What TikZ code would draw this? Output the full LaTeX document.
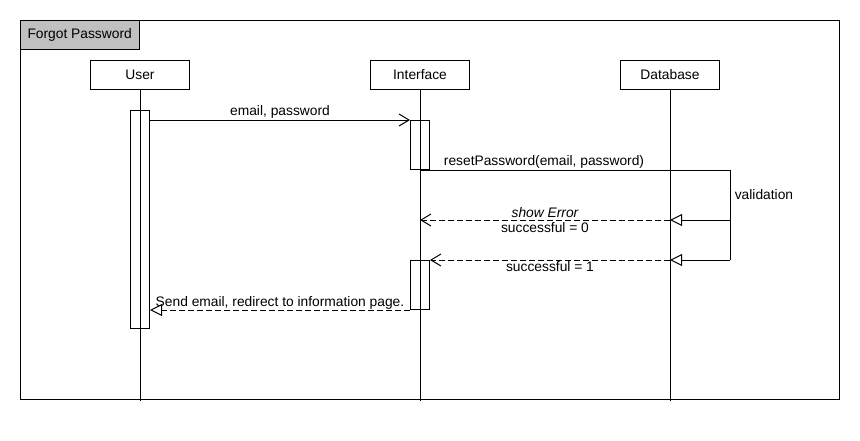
\documentclass[tikz,border=0pt]{standalone}
\usepackage{fontspec}
\setmainfont{Liberation Sans}
\usetikzlibrary{arrows.meta}
\definecolor{tabgray}{HTML}{C0C0C0}
\begin{document}
\begin{tikzpicture}[x=1pt,y=-1pt,line width=1pt,
  every node/.style={font=\fontsize{13.8}{16}\selectfont},
  partbox/.style={draw,minimum width=99pt,minimum height=29pt,inner sep=0pt},
  actbox/.style={draw,fill=white,minimum width=19pt,inner sep=0pt,anchor=north},
  openhead/.style={-{Straight Barb[length=10pt,width=12pt,line width=1pt]}},
  trihead/.style={-{Triangle[open,length=12pt,width=12pt,line width=1pt,fill=white]}},
  retline/.style={dash pattern=on 6pt off 3pt},
  msglabel/.style={inner sep=1pt}]
\useasboundingbox (0,0) rectangle (860,440);
% frame
\node[draw,minimum width=819pt,minimum height=379pt,inner sep=0pt,anchor=north west] (frame) at (20,20) {};
\node[draw,fill=tabgray,minimum width=119pt,minimum height=29pt,inner sep=0pt,anchor=north west] (title) at (20,20) {};
\node[anchor=west,inner sep=0pt] (titletext) at ([xshift=7pt]title.west) {Forgot Password};
% participants
\node[partbox] (user) at (140,74.5) {User};
\node[partbox] (iface) at (420,74.5) {Interface};
\node[partbox] (db) at (670,74.5) {Database};
\coordinate (userEnd) at (140,401);
\coordinate (ifaceEnd) at (420,401);
\coordinate (dbEnd) at (670,401);
\draw (user.south) -- (userEnd);
\draw (iface.south) -- (ifaceEnd);
\draw (db.south) -- (dbEnd);
% activations
\node[actbox,minimum height=218pt] (uAct) at (140,110) {};
\node[actbox,minimum height=49pt] (iAct1) at (420,120) {};
\node[actbox,minimum height=49pt] (iAct2) at (420,260) {};
\draw (iAct1.north) -- (iAct1.south);
\draw (iAct2.north) -- (iAct2.south);
\draw (uAct.north) -- (uAct.south);
% message 1
\draw[openhead] (uAct.east |- iAct1.north) -- node[above,msglabel] {email, password} (iAct1.north west);
% reset password
\coordinate (valTop) at (730,170);
\coordinate (valMid) at (730,220);
\coordinate (valBot) at (730,260);
\coordinate (dbA) at (670,220);
\coordinate (dbB) at (670,260);
\coordinate (ifA) at (420,220);
\draw (iAct1.south |- valTop) -- node[above,msglabel,pos=0.4] {resetPassword(email, password)} (valTop) -- (valBot);
\node[anchor=west] (valLabel) at (731,195) {validation};
\draw[trihead] (valMid) -- (dbA);
\draw[trihead] (valBot) -- (dbB);
\draw[retline,openhead] (dbA) -- node[above,msglabel,inner sep=0pt,yshift=1.5pt] {\itshape show Error} node[below,msglabel,inner sep=0pt,yshift=-1.5pt] {successful = 0} (ifA);
\draw[retline,openhead] (dbB) -- node[below,msglabel] {successful = 1} (iAct2.north east);
% send email
\draw[retline,trihead] (iAct2.south west) -- node[above,msglabel,inner sep=0pt] {Send email, redirect to information page.} (uAct.east |- iAct2.south);
\end{tikzpicture}
\end{document}
